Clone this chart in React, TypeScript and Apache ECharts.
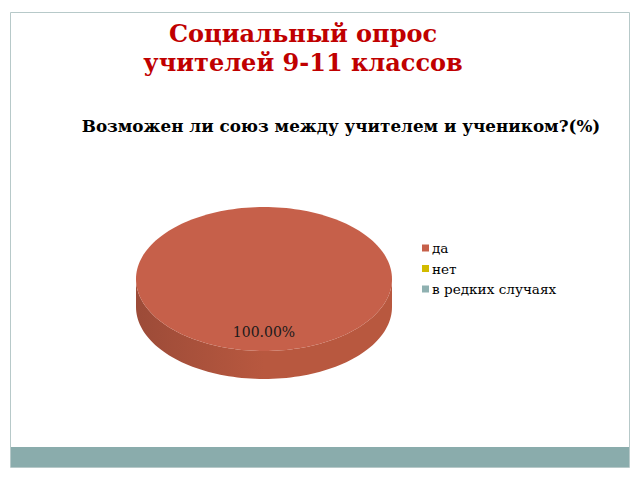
import { useEffect, useRef } from 'react';
import * as echarts from 'echarts';

// данные опроса
const categories = ['да', 'нет', 'в редких случаях'];
const values = [100, 0, 0];

const titleText = 'Социальный опрос\nучителей 9-11 классов';
const subtitleText = 'Возможен ли союз между учителем и учеником?(%)';

// стиль
const topColors = ['#c6604a', '#d2bb00', '#8fb1b1'];
const sideDark = ['#9c4b38', '#a89400', '#6f8e8e'];
const sideLight = ['#b8583f', '#c4ae00', '#84a5a5'];
const FONT = '"DejaVu Serif", serif';

// геометрия 3D-пирога
const CX = 264;
const CY = 279;
const RX = 128;
const RY = 72;
const DEPTH = 28;

const total = values.reduce((a, b) => a + b, 0);
const startAngles = values.map(
  (_, i) => (values.slice(0, i).reduce((a, b) => a + b, 0) / total) * Math.PI * 2
);

const pt = (t: number, dy = 0) => [CX + RX * Math.sin(t), CY - RY * Math.cos(t) + dy];

const arcPoints = (a0: number, a1: number, dy = 0) => {
  const n = Math.max(2, Math.ceil(((a1 - a0) / (Math.PI * 2)) * 180));
  const pts: number[][] = [];
  for (let k = 0; k <= n; k++) pts.push(pt(a0 + ((a1 - a0) * k) / n, dy));
  return pts;
};

const makeRenderItem = (idx: number) => (_params: any, api: any) => {
  const v = api.value(0) as number;
  if (!v) return { type: 'group', children: [] };
  const a0 = startAngles[idx];
  const a1 = a0 + (v / total) * Math.PI * 2;
  const full = v >= total;
  const children: any[] = [];

  // боковая стенка (видимая передняя часть)
  const s0 = Math.max(a0, Math.PI / 2);
  const s1 = Math.min(a1, (Math.PI * 3) / 2);
  if (s1 > s0) {
    const upper = arcPoints(s0, s1);
    const lower = arcPoints(s0, s1, DEPTH).reverse();
    children.push({
      type: 'polygon',
      z2: 1,
      shape: { points: upper.concat(lower) },
      style: {
        fill: new echarts.graphic.LinearGradient(0, 0, 1, 0, [
          { offset: 0, color: sideDark[idx] },
          { offset: 0.5, color: sideLight[idx] },
          { offset: 1, color: sideLight[idx] },
        ]),
      },
    });
  }

  // верхняя грань
  const topPts = full ? arcPoints(0, Math.PI * 2) : [[CX, CY]].concat(arcPoints(a0, a1));
  children.push({
    type: 'polygon',
    z2: 2,
    shape: { points: topPts },
    style: { fill: topColors[idx] },
  });

  // подпись
  const mid = (a0 + a1) / 2;
  const lp = [CX + RX * 0.74 * Math.sin(mid), CY - RY * 0.74 * Math.cos(mid)];
  children.push({
    type: 'text',
    z2: 3,
    style: {
      text: ((v / total) * 100).toFixed(2) + '%',
      x: lp[0],
      y: lp[1],
      align: 'center',
      verticalAlign: 'middle',
      fill: '#1a1a1a',
      font: `14px ${FONT}`,
    },
  });

  return { type: 'group', children };
};

export default function App() {
  const chartRef = useRef<HTMLDivElement>(null);

  useEffect(() => {
    if (!chartRef.current) return;
    const chart = echarts.init(chartRef.current, undefined, { renderer: 'svg' });

    const option: any = {
      animation: false,
      backgroundColor: '#ffffff',
      color: topColors,
      title: [
        {
          text: titleText,
          left: 298,
          top: 14,
          textAlign: 'center',
          textStyle: {
            color: '#c00000',
            fontFamily: FONT,
            fontWeight: 'bold',
            fontSize: 24,
            lineHeight: 29,
          },
        },
        {
          text: subtitleText,
          left: 336,
          top: 111,
          textAlign: 'center',
          textStyle: {
            color: '#000000',
            fontFamily: FONT,
            fontWeight: 'bold',
            fontSize: 16.8,
            lineHeight: 20,
          },
        },
      ],
      legend: {
        data: categories,
        orient: 'vertical',
        left: 417,
        top: 236,
        icon: 'rect',
        itemWidth: 7,
        itemHeight: 7,
        itemGap: 6.5,
        textStyle: { color: '#000000', fontFamily: FONT, fontSize: 13.6, padding: [0, 0, 0, -2] },
      },
      graphic: [
        {
          type: 'rect',
          z: -10,
          shape: { x: 10.5, y: 12.5, width: 619, height: 455 },
          style: { fill: '#ffffff', stroke: '#b7c9c9', lineWidth: 1 },
        },
        {
          type: 'rect',
          z: -9,
          shape: { x: 11, y: 447, width: 618, height: 20 },
          style: { fill: '#8aacac' },
        },
      ],
      series: categories.map((name, i) => ({
        type: 'custom',
        name,
        coordinateSystem: 'none',
        itemStyle: { color: topColors[i] },
        data: [[values[i]]],
        renderItem: makeRenderItem(i),
      })),
    };

    chart.setOption(option);
    return () => {
      chart.dispose();
    };
  }, []);

  return (
    <div
      ref={chartRef}
      style={{ position: 'fixed', left: 0, top: 0, width: 640, height: 480 }}
    />
  );
}
